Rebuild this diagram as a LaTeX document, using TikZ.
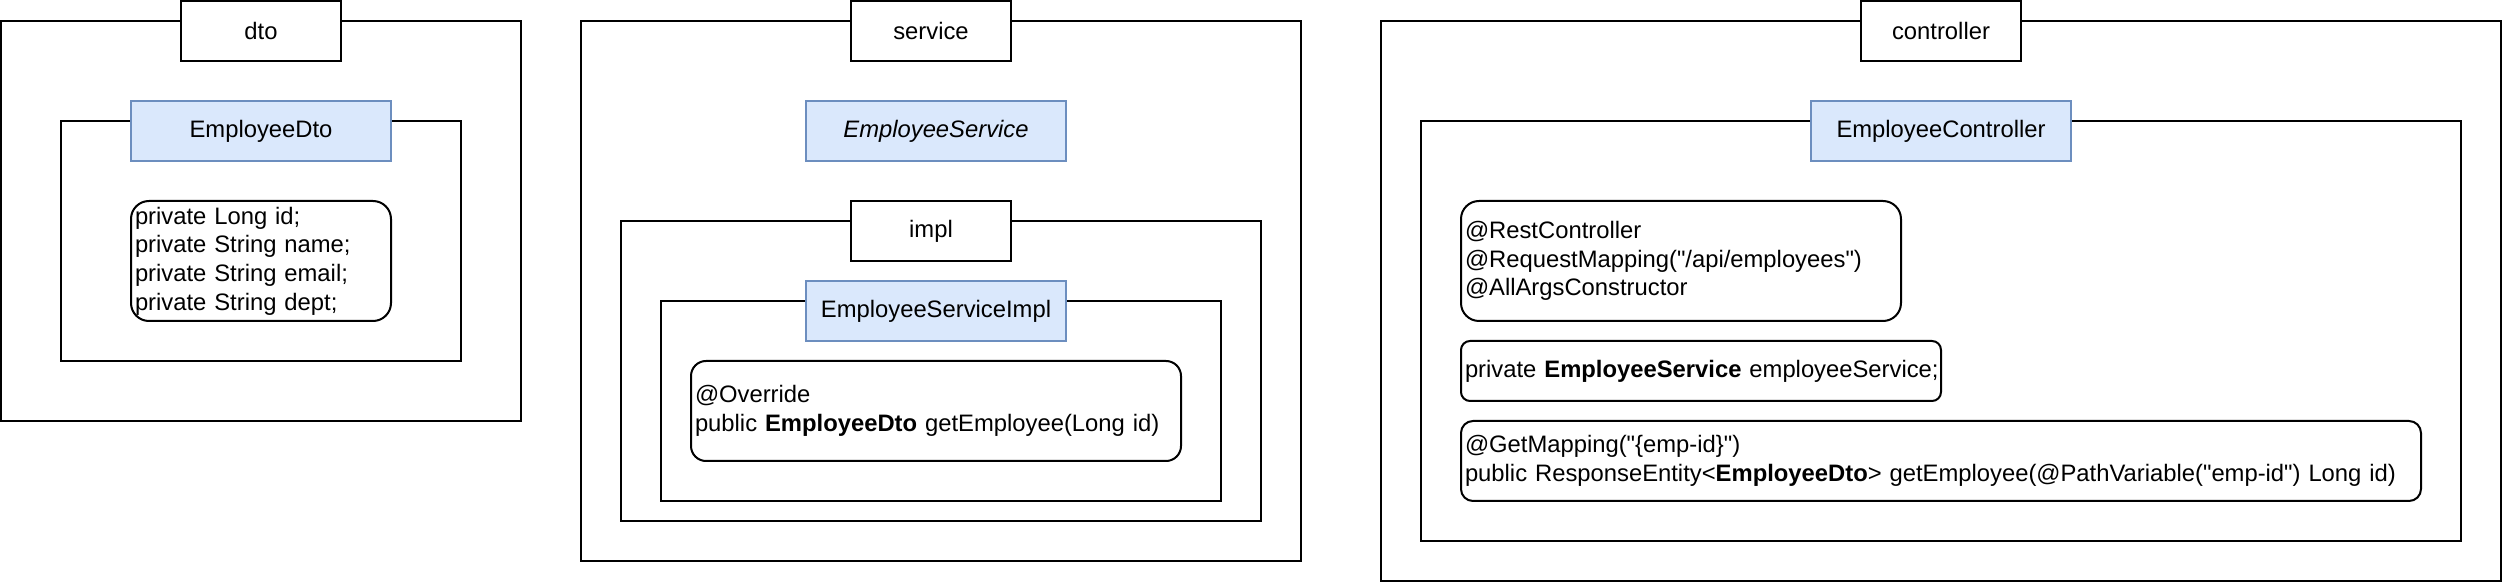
\documentclass[tikz,border=0pt]{standalone}
\usepackage{fontspec}
\setmainfont{Liberation Sans}
\usepackage{tikz}
\definecolor{clsfill}{HTML}{DAE8FC}
\definecolor{clsline}{HTML}{6C8EBF}
\newcommand{\dquote}{\textquotedbl}
\tikzset{
  pkg/.style={draw, line width=1pt, inner sep=0pt},
  pkgname/.style={draw, fill=white, line width=1pt, inner sep=0pt, minimum width=80pt, minimum height=30pt},
  cls/.style={draw=clsline, fill=clsfill, line width=1pt, inner sep=0pt, minimum width=130pt, minimum height=30pt},
  codebox/.style={draw, fill=white, line width=1pt, rounded corners=#1, inner xsep=2pt, inner ysep=0pt, align=left}
}

\begin{document}
\begin{tikzpicture}[x=0.5pt, y=-0.5pt, font=\fontsize{11.9}{14.3}\selectfont]
  \useasboundingbox (0,0) rectangle (2502,582);
  % dto
  \node[pkg, minimum width=260pt, minimum height=200pt] (dto) at (261,221) {};
  \node[pkg, minimum width=200pt, minimum height=120pt] (dtoClass) at (261,241) {};
  \node[pkgname] (dtoName) at (261,31) {dto};
  \node[cls] (employeeDto) at (261,131) {EmployeeDto};
  \node[codebox=9pt, text width=126pt, minimum height=60pt] (dtoFields) at (261,261)
    {private Long id;\\private String name;\\private String email;\\private String dept;};

  % service
  \node[pkg, minimum width=360pt, minimum height=270pt] (service) at (941,291) {};
  \node[pkg, minimum width=320pt, minimum height=150pt] (impl) at (941,371) {};
  \node[pkg, minimum width=280pt, minimum height=100pt] (implClass) at (941,401) {};
  \node[pkgname] (serviceName) at (931,31) {service};
  \node[pkgname] (implName) at (931,231) {impl};
  \node[cls] (employeeService) at (936,131) {\itshape EmployeeService};
  \node[cls] (employeeServiceImpl) at (936,311) {EmployeeServiceImpl};
  \node[codebox=7.5pt, text width=241pt, minimum height=50pt] (implMethod) at (936,411)
    {@Override\\public \textbf{EmployeeDto} getEmployee(Long id)};

  % controller
  \node[pkg, minimum width=560pt, minimum height=280pt] (controller) at (1941,301) {};
  \node[pkg, minimum width=520pt, minimum height=210pt] (controllerClass) at (1941,331) {};
  \node[pkgname] (controllerName) at (1941,31) {controller};
  \node[cls] (employeeController) at (1941,131) {EmployeeController};
  \node[codebox=9pt, text width=216pt, minimum height=60pt] (annotations) at (1681,261)
    {@RestController\\@RequestMapping(\dquote/api/employees\dquote)\\@AllArgsConstructor};
  \node[codebox=4.5pt, text width=236pt, minimum height=30pt] (serviceField) at (1701,371)
    {\mbox{private \textbf{EmployeeService} employeeService;}};
  \node[codebox=6pt, text width=476pt, minimum height=40pt] (getMethod) at (1941,461)
    {@GetMapping(\dquote\{emp-id\}\dquote)\\\mbox{public ResponseEntity<\textbf{EmployeeDto}> getEmployee(@PathVariable(\dquote emp-id\dquote) Long id)}};
\end{tikzpicture}
\end{document}
